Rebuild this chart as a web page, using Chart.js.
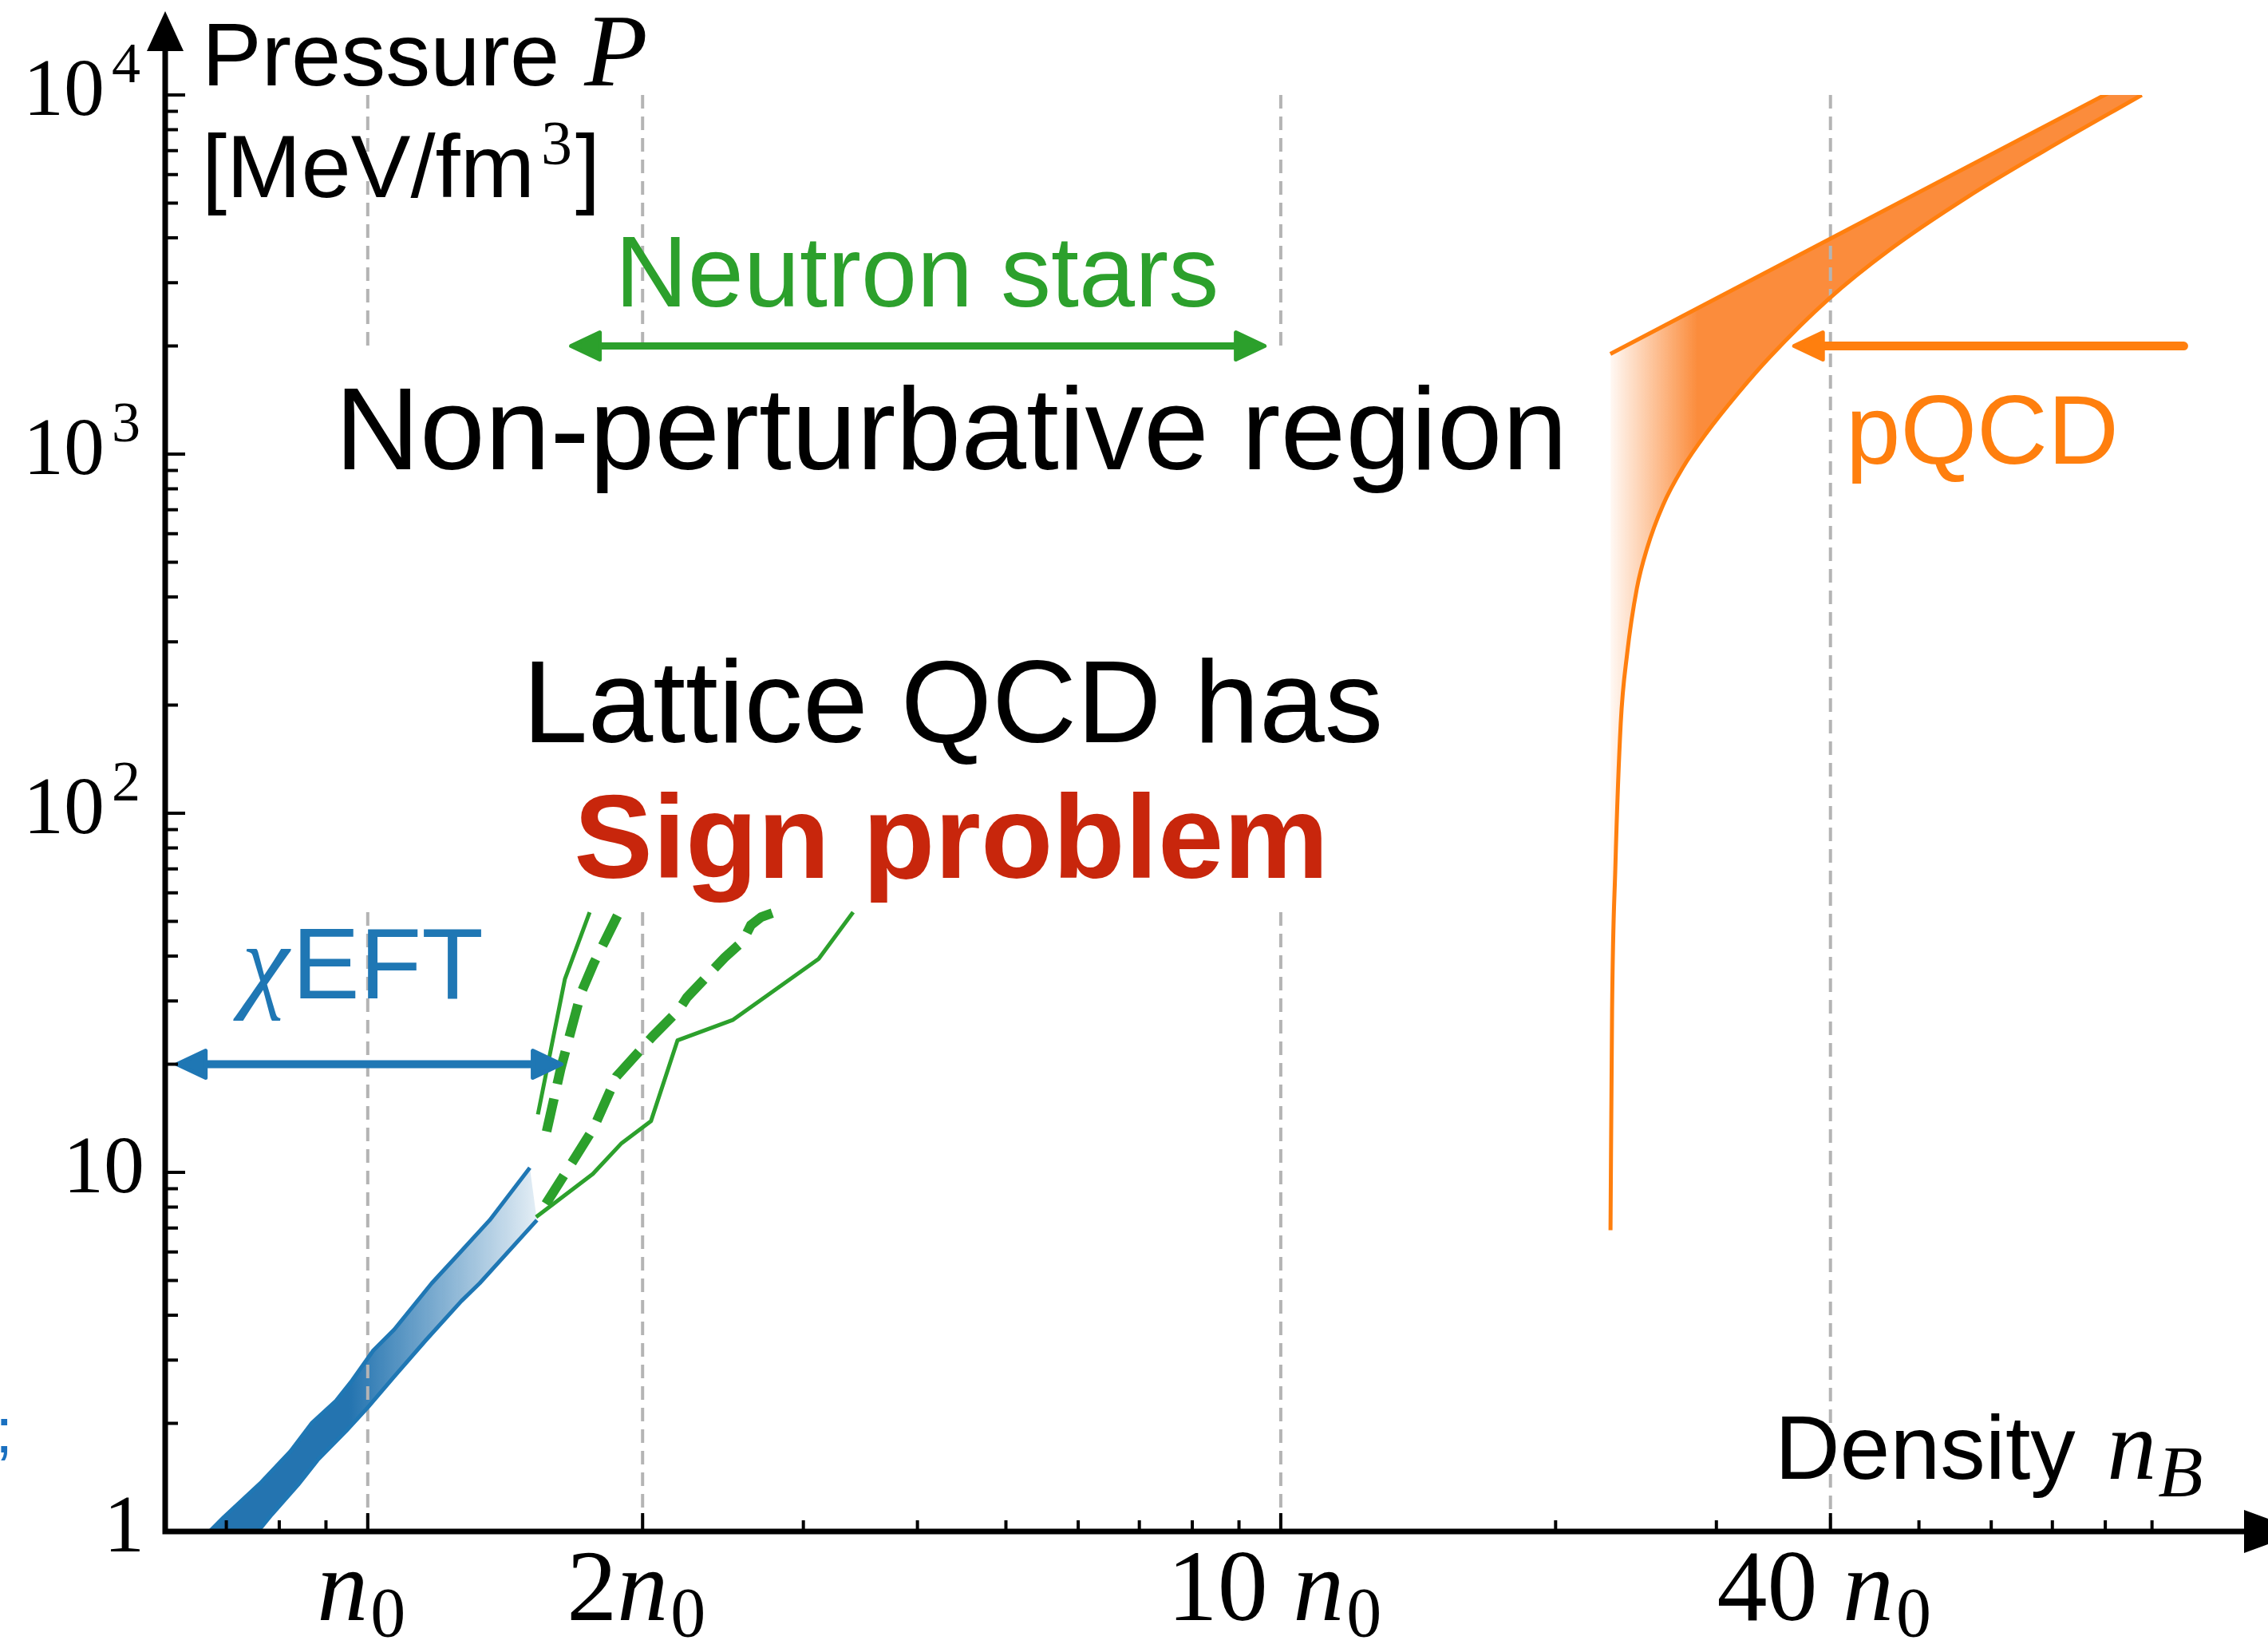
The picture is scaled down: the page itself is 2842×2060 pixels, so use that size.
<!DOCTYPE html>
<html>
<head>
<meta charset="utf-8">
<script src="https://cdn.jsdelivr.net/npm/chart.js@4.4.1/dist/chart.umd.min.js"></script>
<style>
  html, body { margin: 0; padding: 0; background: #fff; }
  canvas { display: block; }
</style>
</head>
<body>
<canvas id="eos" width="2842" height="2060"></canvas>
<script>
// density in units of n0, pressure in MeV/fm^3

// chiral EFT band
const chiEftUpperN = [0.671, 0.696, 0.765, 0.823, 0.869, 0.923, 0.961, 1.014, 1.069, 1.175, 1.255, 1.36, 1.505];
const chiEftUpperP = [1.0, 1.098, 1.373, 1.673, 2.007, 2.31, 2.63, 3.19, 3.65, 4.91, 5.89, 7.36, 10.3];
const chiEftLowerN = [0.758, 0.785, 0.839, 0.881, 0.947, 1.0, 1.069, 1.158, 1.266, 1.326, 1.532];
const chiEftLowerP = [1.0, 1.115, 1.35, 1.58, 1.905, 2.215, 2.70, 3.41, 4.38, 4.91, 7.36];

// neutron-star envelopes (solid = outer bounds, dashed = inner bounds)
const nsSoftN = [1.536, 1.644, 1.750];
const nsSoftP = [14.5, 34.5, 53];
const nsSoftInnerN = [1.570, 1.627, 1.712, 1.768, 1.818, 1.885];
const nsSoftInnerP = [13.0, 19.45, 31.5, 38.2, 44.0, 53];
const nsStiffInnerN = [1.567, 1.644, 1.768, 1.873, 2.051, 2.193, 2.237, 2.459, 2.575, 2.628, 2.698, 2.791];
const nsStiffInnerP = [8.17, 9.9, 13.3, 18.5, 23.9, 28.4, 30.7, 39.6, 44.0, 48.8, 51.4, 53];
const nsStiffN = [1.529, 1.764, 1.897, 2.043, 2.184, 2.513, 3.118, 3.401];
const nsStiffP = [7.51, 9.90, 12.06, 13.9, 23.3, 26.6, 39.3, 53];

// perturbative QCD band (upper edge runs on past the top of the frame)
const pqcdUpperN = [22.96, 95];
const pqcdUpperP = [1900, 12600];
const pqcdLowerN = [22.97, 23.06, 23.25, 23.57, 23.95, 24.55, 25.19, 26.22, 27.53, 29.24, 31.69, 34.35, 39.8, 46.5, 56.6, 68.8, 87.7];
const pqcdLowerP = [6.9, 28, 70, 178, 277, 423, 547, 721, 912, 1142, 1478, 1867, 2700, 3715, 5212, 7023, 10000];

// reference densities and where their guide lines are hidden
const guideN = [1, 2, 10, 40];
const guideGapFrom = [53, 53, 53, null];
const guideGapTo = [2000, 2000, 2000, null];

// range arrows
const chiEftArrowN = [0.618, 1.63];
const chiEftArrowP = 20;
const nsArrowN = [1.67, 9.6];
const nsArrowP = 2000;
const pqcdArrowN = [97.5, 36.5];
const pqcdArrowP = 2000;

// axis ticks
const xTickValues = [1, 2, 10, 40];
const xTickPrefix = ['', '2', '10 ', '40 '];
const xMinorValues = [0.7, 0.8, 0.9, 3, 4, 5, 6, 7, 8, 9, 20, 30, 50, 60, 70, 80, 90];
const yTickValues = [1, 10, 100, 1000, 10000];
const yTickBase = ['1', '10', '10', '10', '10'];
const yTickExp = ['', '', '2', '3', '4'];

const BLUE = '#1f77b4';
const GREEN = '#2ca02c';
const ORANGE = '#ff7f0e';
const RED = '#c8260c';
const SANS = '"Liberation Sans", Arial, sans-serif';
const SERIF = '"Liberation Serif", "Times New Roman", serif';

const pts = (ns, ps) => ns.map((n, i) => ({ x: n, y: ps[i] }));
const polygon = (upN, upP, loN, loP) => pts(upN, upP).concat(pts(loN, loP).reverse());

function fade(rgb, fromN, toN, a0, a1) {
  return (c) => {
    const chart = c.chart;
    if (!chart.chartArea) return `rgba(${rgb},1)`;
    const xs = chart.scales.x;
    const g = chart.ctx.createLinearGradient(xs.getPixelForValue(fromN), 0, xs.getPixelForValue(toN), 0);
    g.addColorStop(0, `rgba(${rgb},${a0})`);
    g.addColorStop(1, `rgba(${rgb},${a1})`);
    return g;
  };
}

function line(data, color, width, extra) {
  return Object.assign({
    data, borderColor: color, borderWidth: width, fill: false,
    pointRadius: 0, pointHoverRadius: 0, order: 10, borderJoinStyle: 'round',
  }, extra || {});
}

const guideSets = guideN.map((n, i) => {
  const d = [{ x: n, y: 10000 }];
  if (guideGapFrom[i] !== null) {
    d.push({ x: n, y: guideGapTo[i] }, { x: n, y: null }, { x: n, y: guideGapFrom[i] });
  }
  d.push({ x: n, y: 1 });
  return line(d, '#b4b4b4', 4, { borderDash: [17, 10], spanGaps: false, order: 20, borderJoinStyle: 'miter' });
});

const datasets = [
  // 0: chiEFT band body
  line(polygon(chiEftUpperN, chiEftUpperP, chiEftLowerN, chiEftLowerP), 'rgba(0,0,0,0)', 0, {
    fill: 'shape', backgroundColor: fade('36,116,176', 0.955, 1.53, 1, 0.13), order: 30,
  }),
  // 1, 2: pQCD edges, band filled from the lower edge up to the upper one
  line(pts(pqcdUpperN, pqcdUpperP), ORANGE, 5),
  line(pts(pqcdLowerN, pqcdLowerP), ORANGE, 5, {
    fill: '-1', cubicInterpolationMode: 'monotone',
    backgroundColor: fade('251,140,60', 22.97, 28.6, 0.06, 1),
  }),
  ...guideSets,
  line(pts(chiEftUpperN, chiEftUpperP), BLUE, 5),
  line(pts(chiEftLowerN, chiEftLowerP), BLUE, 5),
  line(pts(nsSoftN, nsSoftP), GREEN, 5),
  line(pts(nsStiffN, nsStiffP), GREEN, 5),
  line(pts(nsSoftInnerN, nsSoftInnerP), GREEN, 12, { borderDash: [42, 19], borderJoinStyle: 'miter' }),
  line(pts(nsStiffInnerN, nsStiffInnerP), GREEN, 12, { borderDash: [42, 19], borderJoinStyle: 'miter' }),
];

// text made of runs with different fonts / offsets
function drawRuns(ctx, runs, x, y, align, color) {
  ctx.textAlign = 'left';
  ctx.textBaseline = 'alphabetic';
  let total = 0;
  for (const r of runs) {
    ctx.font = r.font;
    r.w = ctx.measureText(r.text).width + (r.pad || 0);
    total += r.w;
  }
  let cx = align === 'center' ? x - total / 2 : align === 'right' ? x - total : x;
  for (const r of runs) {
    ctx.font = r.font;
    ctx.fillStyle = r.color || color;
    ctx.fillText(r.text, cx + (r.pad || 0), y + (r.dy || 0));
    cx += r.w;
  }
}

function arrowHead(ctx, tx, ty, dx, len, half, color) {
  ctx.save();
  ctx.fillStyle = color;
  ctx.strokeStyle = color;
  ctx.lineWidth = 5;
  ctx.lineJoin = 'round';
  ctx.beginPath();
  ctx.moveTo(tx, ty);
  ctx.lineTo(tx - dx * len, ty - half);
  ctx.lineTo(tx - dx * len, ty + half);
  ctx.closePath();
  ctx.fill();
  ctx.stroke();
  ctx.restore();
}

function rangeArrow(chart, ns, p, color, width, both) {
  const { ctx, scales: { x, y } } = chart;
  const x0 = x.getPixelForValue(ns[0]);
  const x1 = x.getPixelForValue(ns[1]);
  const yy = y.getPixelForValue(p);
  const dir = Math.sign(x1 - x0);
  const len = 36, half = 17;
  ctx.save();
  ctx.strokeStyle = color;
  ctx.lineWidth = width;
  ctx.lineCap = 'round';
  ctx.beginPath();
  ctx.moveTo(both ? x0 + dir * (len - 4) : x0, yy);
  ctx.lineTo(x1 - dir * (len - 4), yy);
  ctx.stroke();
  ctx.restore();
  arrowHead(ctx, x1, yy, dir, len, half, color);
  if (both) arrowHead(ctx, x0, yy, -dir, len, half, color);
}

const overlay = {
  id: 'overlay',
  afterDatasetsDraw(chart) {
    const { ctx, chartArea: a, scales: { x, y } } = chart;

    rangeArrow(chart, chiEftArrowN, chiEftArrowP, BLUE, 10, true);
    rangeArrow(chart, nsArrowN, nsArrowP, GREEN, 9, true);
    rangeArrow(chart, pqcdArrowN, pqcdArrowP, ORANGE, 11, false);

    // axes with arrow heads
    ctx.save();
    ctx.strokeStyle = '#000';
    ctx.fillStyle = '#000';
    ctx.lineWidth = 7;
    ctx.beginPath();
    ctx.moveTo(a.left, a.bottom + 3.5);
    ctx.lineTo(a.left, 60);
    ctx.moveTo(a.left - 3.5, a.bottom);
    ctx.lineTo(2815, a.bottom);
    ctx.stroke();
    ctx.beginPath();
    ctx.moveTo(a.left, 14);
    ctx.lineTo(a.left - 23, 64);
    ctx.lineTo(a.left + 23, 64);
    ctx.closePath();
    ctx.fill();
    ctx.beginPath();
    ctx.moveTo(2886, a.bottom);
    ctx.lineTo(2812, a.bottom - 27);
    ctx.lineTo(2812, a.bottom + 27);
    ctx.closePath();
    ctx.fill();

    // inward ticks
    ctx.lineWidth = 4;
    ctx.beginPath();
    for (const v of yTickValues) {
      const yy = y.getPixelForValue(v);
      ctx.moveTo(a.left, yy); ctx.lineTo(a.left + 25, yy);
    }
    for (let dec = 1; dec < 10000; dec *= 10) {
      for (let m = 2; m <= 9; m++) {
        const yy = y.getPixelForValue(m * dec);
        ctx.moveTo(a.left, yy); ctx.lineTo(a.left + 16, yy);
      }
    }
    for (const v of xTickValues) {
      const xx = x.getPixelForValue(v);
      ctx.moveTo(xx, a.bottom); ctx.lineTo(xx, a.bottom - 23);
    }
    for (const v of xMinorValues) {
      const xx = x.getPixelForValue(v);
      ctx.moveTo(xx, a.bottom); ctx.lineTo(xx, a.bottom - 14);
    }
    ctx.stroke();

    // tick labels
    ctx.fillStyle = '#000';
    ctx.textBaseline = 'alphabetic';
    yTickValues.forEach((v, i) => {
      const yy = y.getPixelForValue(v);
      ctx.textAlign = 'right';
      if (yTickExp[i]) {
        ctx.font = '72px ' + SERIF;
        ctx.fillText(yTickExp[i], 176, yy - 16);
        const w = ctx.measureText(yTickExp[i]).width;
        ctx.font = '102px ' + SERIF;
        ctx.fillText(yTickBase[i], 176 - w - 9, yy + 25);
      } else {
        ctx.font = '102px ' + SERIF;
        ctx.fillText(yTickBase[i], 181, yy + 25);
      }
    });
    xTickValues.forEach((v, i) => {
      const xx = x.getPixelForValue(v) - 8;
      drawRuns(ctx, [
        { text: xTickPrefix[i], font: '126px ' + SERIF },
        { text: 'n', font: 'italic 128px ' + SERIF },
        { text: '0', font: '88px ' + SERIF, dy: 20, pad: 3 },
      ], xx, 2030, 'center', '#000');
    });

    // axis titles and region labels
    drawRuns(ctx, [
      { text: 'Pressure ', font: '112px ' + SANS },
      { text: 'P', font: 'italic 130px ' + SERIF },
    ], 253, 107, 'left', '#000');
    drawRuns(ctx, [
      { text: '[MeV/fm', font: '112px ' + SANS },
      { text: '3', font: '78px ' + SERIF, dy: -42, pad: 8 },
      { text: ']', font: '112px ' + SANS, pad: 4 },
    ], 253, 247, 'left', '#000');
    drawRuns(ctx, [
      { text: 'Density ', font: '113px ' + SANS },
      { text: 'n', font: 'italic 124px ' + SERIF, pad: 8 },
      { text: 'B', font: 'italic 92px ' + SERIF, dy: 22, pad: 2 },
    ], 2224, 1853, 'left', '#000');

    drawRuns(ctx, [{ text: 'Neutron stars', font: '126px ' + SANS }], 1149, 384, 'center', GREEN);
    drawRuns(ctx, [{ text: 'Non-perturbative region', font: '147px ' + SANS }], 1192, 588, 'center', '#000');
    drawRuns(ctx, [{ text: 'Lattice QCD has', font: '147px ' + SANS }], 1194, 930, 'center', '#000');
    drawRuns(ctx, [{ text: 'Sign problem', font: 'bold 148px ' + SANS }], 1192, 1100, 'center', RED);
    drawRuns(ctx, [
      { text: '\u03c7', font: 'italic 134px ' + SERIF },
      { text: 'EFT', font: '127px ' + SANS, pad: 4 },
    ], 303, 1251, 'left', BLUE);
    drawRuns(ctx, [{ text: 'pQCD', font: '123px ' + SANS }], 2313, 581, 'left', ORANGE);
    drawRuns(ctx, [{ text: ';', font: '80px ' + SANS }], -6, 1820, 'left', '#1a70c0');
    ctx.restore();
  },
};

new Chart(document.getElementById('eos'), {
  type: 'line',
  data: { datasets },
  options: {
    responsive: false,
    animation: false,
    devicePixelRatio: 1,
    events: [],
    layout: { padding: { left: 207, right: 93, top: 119, bottom: 141 } },
    scales: {
      x: { type: 'logarithmic', min: 0.6, max: 100, display: false },
      y: { type: 'logarithmic', min: 1, max: 10000, display: false },
    },
    plugins: {
      legend: { display: false },
      tooltip: { enabled: false },
      filler: { drawTime: 'beforeDatasetsDraw' },
    },
  },
  plugins: [overlay],
});
</script>
</body>
</html>
